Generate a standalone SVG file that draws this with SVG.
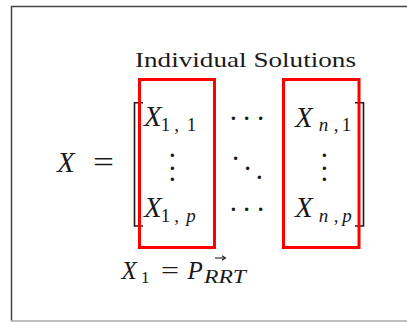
<svg xmlns="http://www.w3.org/2000/svg" width="407" height="322" viewBox="0 0 407 322">
<style>
.t{font-family:'Liberation Serif','Times New Roman',serif;fill:#1a1a1a}
.i{font-style:italic}
.big{font-size:29px}
.sub{font-size:19px;text-anchor:middle}
.dot{font-family:'Liberation Serif',serif;fill:#1a1a1a;font-size:29px;text-anchor:middle}
.box{fill:none;stroke:#ff0000;stroke-width:3}
.br{fill:none;stroke:#1a1a1a;stroke-width:1.6}
</style>
<rect width="407" height="322" fill="#ffffff"/>
<g id="frame">
<path d="M407,6.5 H11.5 V321" fill="none" stroke="#444" stroke-width="1.5"/>
<path d="M11,321 H407" fill="none" stroke="#aaa" stroke-width="1.5"/>
</g>
<g id="title">
<text class="t" x="135" y="67" font-size="22" textLength="221" lengthAdjust="spacingAndGlyphs">Individual Solutions</text>
</g>
<g id="lhs">
<text class="t i big" x="57" y="172">X</text>
<text class="t big" x="93" y="172" textLength="21" lengthAdjust="spacingAndGlyphs">=</text>
</g>
<g id="brackets">
<path class="br" d="M143,102.7 H134.5 V226 H143"/>
<path class="br" d="M355,102.7 H363.5 V226 H355"/>
</g>
<g id="col1">
<rect class="box" x="139.5" y="79.5" width="75" height="168"/>
<text class="t i big" x="144" y="126">X</text>
<text class="t sub" x="165.5 176.5 191.5" y="131">1,1</text>
<text class="dot" x="172.3 172.3 172.3" y="157.4 169.7 181.4">...</text>
<text class="t i big" x="144" y="216.5">X</text>
<text class="t sub" x="165.5 176.5" y="221.5">1,</text>
<text class="t sub i" x="191" y="221.5">p</text>
</g>
<g id="middle">
<text class="dot" x="233.3 246.7 260.5" y="119.7 119.7 119.7">...</text>
<text class="dot" x="235.7 247.7 259.3" y="160.4 169.7 178.7">...</text>
<text class="dot" x="233.3 246.7 260.5" y="210.7 210.7 210.7">...</text>
</g>
<g id="colN">
<rect class="box" x="283.5" y="79.5" width="75.5" height="168"/>
<text class="t i big" x="295" y="126.5">X</text>
<text class="t sub i" x="323.5" y="131">n</text>
<text class="t sub" x="336 346.5" y="131">,1</text>
<text class="dot" x="324.3 324.3 324.3" y="157.4 169.7 181.4">...</text>
<text class="t i big" x="295" y="216.5">X</text>
<text class="t sub i" x="323.5" y="221.5">n</text>
<text class="t sub" x="336" y="221.5">,</text>
<text class="t sub i" x="347" y="221.5">p</text>
</g>
<g id="label">
<text class="t i" x="121.5" y="278.5" font-size="25">X</text>
<text class="t" x="141" y="283" font-size="17">1</text>
<text class="t" x="161" y="278.5" font-size="25" textLength="18" lengthAdjust="spacingAndGlyphs">=</text>
<text class="t i" x="187.5" y="278.5" font-size="25">P</text>
<text class="t i" x="204" y="283" font-size="19" textLength="42" lengthAdjust="spacingAndGlyphs">RRT</text>
<path d="M215,258 H224.5" stroke="#1a1a1a" stroke-width="1.1" fill="none"/>
<path d="M222,255.8 L225.5,258 L222,260.2" stroke="#1a1a1a" stroke-width="1.1" fill="none"/>
</g>
</svg>
